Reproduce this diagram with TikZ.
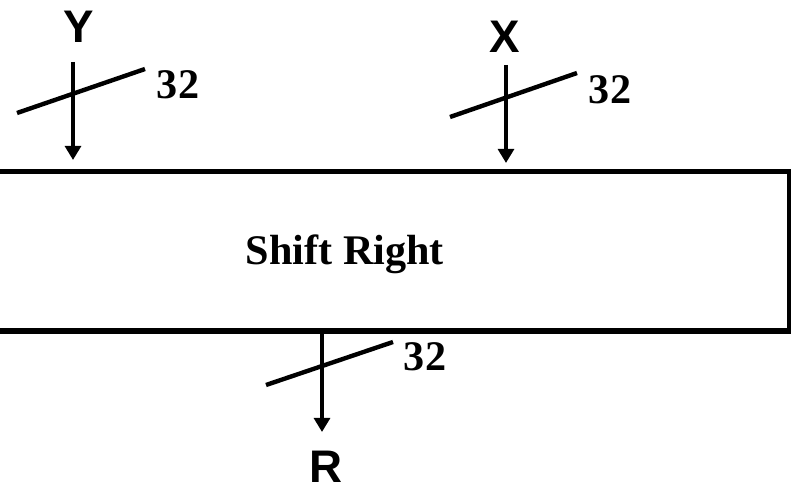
\documentclass[tikz,border=0pt]{standalone}
\usepackage{fontspec}
\setmainfont{Liberation Serif}
\setsansfont{Liberation Sans}
\usetikzlibrary{arrows.meta}
\tikzset{
    bus/.style={line width=2.5pt},
    width/.style={font=\bfseries\fontsize{24}{28}\selectfont},
    port/.style={font=\sffamily\bfseries\fontsize{26}{30}\selectfont}
}
\begin{document}
\begin{tikzpicture}[>={Triangle[length=8pt,width=9pt]}]
        \clip (0,0) rectangle (15.82,9.72);
        \node[draw, line width=2.85pt, minimum width=17.76cm, minimum height=3.19cm, inner sep=0pt, text height=18pt, text depth=2.4pt, font=\bfseries\fontsize{24}{28}\selectfont] (box) at (6.9,4.695) {Shift Right};

        % inputs
        \node[port] (y) at (1.58,9.18) {Y};
        \coordinate (ytop) at (1.46,8.48);
        \draw[bus, ->, shorten >=0.18cm] (ytop) -- (ytop |- box.north);
        \draw[bus] (0.34,7.46) -- (2.9,8.34);
        \node[width] (yw) at (3.56,8.02) {32};

        \node[port] (x) at (10.1,8.98) {X};
        \coordinate (xtop) at (10.12,8.42);
        \draw[bus, ->, shorten >=0.12cm] (xtop) -- (xtop |- box.north);
        \draw[bus] (9.0,7.38) -- (11.54,8.26);
        \node[width] (xw) at (12.2,7.92) {32};

        % output
        \coordinate (rend) at (6.44,1.08);
        \draw[bus, ->] (rend |- box.south) -- (rend);
        \draw[bus] (5.32,2.02) -- (7.86,2.88);
        \node[width] (rw) at (8.5,2.58) {32};
        \node[port] (r) at (6.52,0.39) {R};
\end{tikzpicture}
\end{document}
